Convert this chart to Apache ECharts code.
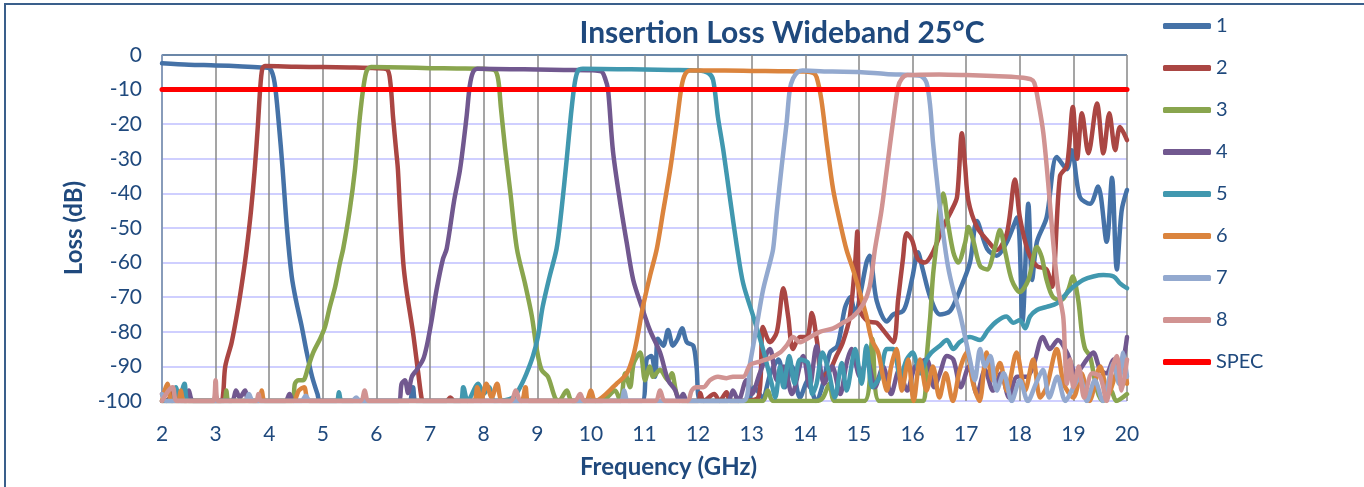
<!DOCTYPE html>
<html>
<head>
<meta charset="utf-8">
<script src="https://cdn.jsdelivr.net/npm/echarts@6/dist/echarts.min.js"></script>
<style>
html,body{margin:0;padding:0;background:#fff;}
#c{width:1364px;height:487px;}
</style>
</head>
<body>
<div id="c"></div>
<script>
const titleText = "Insertion Loss Wideband 25°C";
const xName = "Frequency (GHz)";
const yName = "Loss (dB)";
const seriesNames = ["1","2","3","4","5","6","7","8","SPEC"];
const seriesColors = ["#4572A7","#AA4643","#89A54E","#71588F","#4198AF","#DB843D","#93A9CF","#D19392","#FF0000"];

const s1 = [[2.0,-2.4],[2.5,-2.8],[3.0,-3.0],[3.5,-3.3],[3.9,-3.6],[4.02,-4],[4.1,-8],[4.18,-20],[4.25,-33],[4.33,-50],[4.42,-64],[4.5,-71],[4.6,-78],[4.7,-86],[4.8,-93],[4.9,-98],[4.95,-100],[6.0,-100],[6.6,-100],[6.68,-96],[6.75,-100],[10.95,-100],[11.04,-88],[11.13,-87],[11.2,-93],[11.25,-82],[11.35,-84],[11.44,-79.5],[11.53,-84],[11.62,-82],[11.7,-79],[11.79,-83],[11.91,-84],[11.97,-90],[12.05,-100],[12.9,-100],[13.05,-96],[13.2,-99],[13.35,-92],[13.5,-88],[13.62,-96],[13.75,-90],[13.9,-99],[14.05,-94],[14.2,-100],[14.33,-95],[14.46,-86],[14.6,-84],[14.74,-73],[14.84,-70],[14.93,-75],[15.04,-68],[15.14,-60],[15.2,-58],[15.33,-71],[15.52,-77],[15.64,-75],[15.82,-74],[15.9,-71],[16.0,-64],[16.1,-57],[16.19,-62],[16.33,-70],[16.51,-75],[16.7,-74],[16.88,-68],[17.07,-60],[17.2,-48],[17.39,-56],[17.57,-58],[17.76,-54],[17.95,-47],[18.05,-77],[18.16,-43],[18.23,-65],[18.32,-54],[18.5,-47],[18.69,-29.5],[18.88,-33],[18.97,-27.5],[19.12,-41],[19.31,-43],[19.46,-38],[19.62,-54],[19.72,-35.5],[19.81,-62],[19.9,-45],[20,-39]];

const s2 = [[2.0,-98],[2.08,-100],[2.25,-97],[2.35,-100],[3.1,-100],[3.14,-98],[3.18,-90],[3.3,-83],[3.42,-73],[3.51,-64],[3.58,-56],[3.66,-45],[3.73,-33],[3.79,-20],[3.83,-10],[3.87,-4],[3.92,-3.2],[4.5,-3.4],[5.0,-3.5],[5.5,-3.6],[6.0,-3.8],[6.2,-4.2],[6.26,-8],[6.31,-18],[6.37,-28],[6.4,-33],[6.44,-45],[6.5,-60],[6.56,-68],[6.68,-80],[6.78,-92],[6.84,-99],[6.87,-100],[7.3,-100],[7.38,-99],[7.45,-100],[12.0,-100],[12.04,-97.7],[12.1,-100],[12.3,-98],[12.4,-100],[12.53,-97.5],[12.6,-100],[13.12,-99],[13.21,-78.6],[13.34,-83],[13.47,-80],[13.59,-67.4],[13.68,-75.6],[13.77,-85],[13.9,-81.5],[14.03,-81.5],[14.12,-74.6],[14.22,-83],[14.31,-93],[14.46,-91],[14.58,-87],[14.7,-83],[14.83,-75.6],[14.93,-60],[14.97,-51],[15.02,-73.7],[15.17,-77],[15.33,-77.4],[15.45,-79.5],[15.64,-83],[15.73,-70.8],[15.82,-59],[15.89,-51.5],[15.99,-53.5],[16.1,-59],[16.23,-60],[16.38,-57],[16.57,-49.7],[16.73,-44.8],[16.83,-41],[16.92,-22.6],[16.98,-32],[17.04,-42],[17.2,-49.7],[17.39,-53.5],[17.57,-56.4],[17.76,-51.5],[17.91,-36],[18.0,-46.8],[18.16,-57],[18.32,-61],[18.5,-62],[18.6,-67],[18.75,-35],[18.88,-32],[18.99,-15],[19.07,-30],[19.16,-16.8],[19.28,-28.4],[19.44,-14],[19.56,-28.4],[19.67,-16.8],[19.78,-27.5],[19.87,-20.8],[20,-24.6]];

const s3 = [[2.0,-100],[3.15,-100],[3.2,-97],[3.25,-100],[4.42,-100],[4.48,-95],[4.54,-94],[4.63,-94],[4.73,-90],[4.82,-86],[4.95,-82],[5.04,-78.6],[5.13,-72.8],[5.23,-67],[5.32,-60],[5.38,-56],[5.5,-45],[5.6,-33],[5.69,-18],[5.76,-9],[5.82,-4.5],[5.9,-3.5],[6.5,-3.6],[7.0,-3.8],[7.5,-3.9],[8.0,-4.0],[8.2,-4.3],[8.27,-7],[8.32,-15],[8.4,-27],[8.5,-40],[8.62,-56],[8.77,-66],[8.9,-75.6],[8.99,-85],[9.08,-91],[9.2,-93],[9.33,-99],[9.4,-100],[9.55,-97],[9.65,-100],[10.2,-100],[10.3,-99],[10.45,-97],[10.55,-100],[10.64,-92],[10.73,-96],[10.8,-89],[10.92,-86],[11.01,-94],[11.1,-90],[11.16,-93],[11.29,-91],[11.44,-94],[11.51,-92],[11.6,-98],[11.7,-100],[13.2,-100],[13.3,-97],[13.4,-100],[14.2,-100],[14.33,-99],[14.45,-95],[14.55,-100],[15.1,-100],[15.25,-82],[15.38,-100],[16.2,-100],[16.26,-88],[16.33,-75.6],[16.38,-64],[16.45,-54],[16.5,-45],[16.57,-40],[16.66,-48.6],[16.76,-57],[16.85,-60],[16.98,-54.3],[17.04,-49.7],[17.13,-53.5],[17.26,-61],[17.39,-62],[17.54,-55.5],[17.63,-50.6],[17.73,-57],[17.85,-65],[18.0,-68.5],[18.16,-65],[18.32,-55.5],[18.41,-58.4],[18.5,-65],[18.62,-70],[18.78,-70.8],[18.9,-68],[18.99,-64],[19.09,-70.8],[19.16,-80.4],[19.22,-85],[19.31,-87],[19.44,-96.8],[19.55,-100],[19.7,-97],[19.8,-100],[20,-98]];

const s4 = [[2.0,-100],[2.45,-100],[2.5,-97],[2.58,-100],[3.3,-100],[3.38,-97],[3.45,-99],[3.55,-97],[3.62,-100],[4.3,-100],[4.38,-98],[4.45,-100],[6.4,-100],[6.47,-95],[6.53,-94],[6.59,-97.7],[6.66,-93],[6.75,-91],[6.87,-88],[6.94,-84],[7.03,-76.6],[7.12,-68],[7.24,-59],[7.31,-56],[7.45,-42],[7.56,-33],[7.68,-18],[7.74,-9],[7.8,-5],[7.88,-4],[8.5,-4.1],[9.0,-4.2],[9.5,-4.3],[10.0,-4.4],[10.2,-4.8],[10.27,-7],[10.32,-10],[10.41,-27.5],[10.54,-42],[10.67,-54.4],[10.79,-65],[10.95,-72.8],[11.1,-79.5],[11.29,-86],[11.44,-94],[11.57,-96.8],[11.65,-100],[11.72,-98],[11.8,-100],[12.55,-100],[12.65,-97],[12.75,-100],[12.9,-94],[13.0,-98],[13.15,-92],[13.34,-85],[13.47,-94],[13.6,-90],[13.75,-98],[13.96,-87],[14.08,-96],[14.21,-84],[14.35,-95],[14.5,-90],[14.65,-98],[14.77,-89],[14.86,-85],[15.02,-93],[15.15,-88],[15.3,-96],[15.45,-90],[15.6,-98],[15.75,-91],[15.9,-97],[16.05,-90],[16.26,-88],[16.4,-96],[16.51,-92],[16.64,-87],[16.76,-88],[16.9,-96],[17.05,-90],[17.2,-98],[17.35,-91],[17.5,-97],[17.65,-92],[17.8,-99],[17.95,-93],[18.13,-93],[18.25,-90],[18.43,-81.5],[18.56,-85],[18.71,-82.4],[18.88,-86],[19.05,-92],[19.25,-88],[19.37,-86],[19.5,-91],[19.62,-92],[19.75,-88],[19.87,-91],[20,-81.5]];

const s5 = [[2.0,-100],[2.2,-100],[2.26,-96],[2.32,-100],[2.42,-95],[2.5,-100],[5.25,-100],[5.3,-97.5],[5.36,-100],[7.55,-100],[7.62,-96],[7.7,-100],[7.9,-95],[8.0,-98],[8.1,-96],[8.2,-100],[8.55,-99],[8.68,-96],[8.8,-92],[8.92,-87],[9.01,-81.5],[9.1,-72.8],[9.23,-64],[9.36,-56],[9.45,-45],[9.55,-30],[9.63,-17],[9.7,-8],[9.76,-4.5],[9.85,-4],[10.5,-4.1],[11.0,-4.2],[11.5,-4.3],[12.0,-4.5],[12.19,-5.2],[12.28,-7.2],[12.37,-18],[12.47,-27.5],[12.6,-42],[12.72,-55],[12.84,-66],[13.03,-75.6],[13.21,-85],[13.37,-94.8],[13.44,-99],[13.53,-90],[13.59,-96],[13.7,-87],[13.8,-95],[13.9,-88],[14.05,-89],[14.13,-98],[14.21,-95],[14.32,-86],[14.43,-91],[14.55,-99],[14.68,-89],[14.77,-97],[14.93,-85],[15.05,-95],[15.14,-84],[15.25,-96],[15.39,-93],[15.52,-85],[15.64,-85],[15.77,-93],[15.89,-88],[16.0,-86],[16.14,-92],[16.26,-88],[16.35,-86],[16.51,-84],[16.64,-82.4],[16.76,-85],[16.88,-83],[17.07,-81.5],[17.26,-82.4],[17.41,-79.5],[17.57,-77],[17.75,-75.6],[17.88,-77.4],[18.0,-76.6],[18.1,-79],[18.19,-75.6],[18.32,-73.7],[18.5,-72.8],[18.69,-71.8],[18.88,-68.8],[19.0,-67],[19.18,-65],[19.37,-64],[19.56,-63.6],[19.75,-64],[19.87,-66],[20,-67.4]];

const s6 = [[2.0,-100],[2.05,-97],[2.1,-95],[2.18,-100],[2.3,-100],[2.35,-97],[2.42,-100],[3.8,-100],[3.86,-97],[3.92,-100],[4.45,-100],[4.55,-97],[4.65,-96],[4.75,-100],[7.8,-100],[7.88,-96],[7.95,-100],[8.05,-95],[8.15,-99],[8.25,-95],[8.35,-100],[8.7,-100],[8.78,-96],[8.85,-100],[9.9,-100],[10.0,-97],[10.08,-100],[10.48,-95],[10.67,-92],[10.79,-87],[10.88,-80.5],[10.97,-72.8],[11.1,-64],[11.23,-56],[11.35,-45],[11.48,-33],[11.6,-19.7],[11.69,-9.2],[11.76,-5.5],[11.85,-4.5],[12.5,-4.5],[13.0,-4.6],[13.5,-4.7],[14.0,-4.8],[14.15,-5.2],[14.21,-6.4],[14.3,-13],[14.4,-25.4],[14.52,-39],[14.65,-48.6],[14.77,-56.4],[14.89,-62],[15.02,-68.8],[15.14,-75.6],[15.24,-82.4],[15.36,-86],[15.45,-93],[15.52,-97],[15.6,-90],[15.7,-85],[15.8,-97],[15.92,-88],[16.02,-100],[16.14,-88],[16.26,-97],[16.38,-90],[16.5,-99],[16.62,-92],[16.75,-100],[16.88,-91],[17.01,-86],[17.13,-95],[17.25,-100],[17.38,-86],[17.5,-94],[17.63,-89],[17.76,-97],[17.94,-86],[18.1,-97],[18.25,-88],[18.38,-99],[18.5,-96],[18.69,-85],[18.82,-95],[19.0,-99],[19.15,-92],[19.3,-100],[19.5,-90],[19.65,-98],[19.8,-92],[19.93,-89],[20,-95]];

const s7 = [[2.0,-98],[2.08,-100],[3.55,-100],[3.62,-98],[3.7,-100],[4.6,-100],[4.68,-98.5],[4.76,-100],[5.55,-100],[5.62,-99],[5.7,-100],[10.55,-100],[10.62,-97],[10.7,-100],[12.84,-100],[12.97,-89],[13.09,-78.6],[13.21,-68],[13.34,-60],[13.4,-56],[13.47,-45],[13.56,-32],[13.65,-19.7],[13.71,-10],[13.77,-6.8],[13.86,-4.9],[13.95,-4.5],[14.5,-4.8],[15.0,-4.9],[15.5,-5.5],[16.0,-5.8],[16.15,-6],[16.26,-8],[16.33,-15],[16.38,-25],[16.48,-40],[16.57,-51.5],[16.66,-61],[16.76,-68],[16.88,-74.6],[16.98,-81.5],[17.07,-88],[17.16,-94],[17.26,-85],[17.35,-90],[17.45,-87],[17.57,-97],[17.7,-92],[17.85,-100],[18.0,-94],[18.15,-100],[18.3,-95],[18.43,-91],[18.55,-99],[18.7,-93],[18.85,-100],[19.0,-96],[19.12,-93],[19.25,-100],[19.4,-94],[19.55,-100],[19.75,-89],[19.85,-95],[19.93,-86],[20,-93]];

const s8 = [[2.0,-100],[2.12,-97],[2.2,-96],[2.28,-100],[2.95,-100],[3.0,-94],[3.05,-100],[3.75,-100],[3.8,-98],[3.85,-100],[5.7,-100],[5.78,-97],[5.86,-100],[8.5,-100],[8.6,-97],[8.7,-100],[9.7,-100],[9.8,-98],[9.88,-100],[11.2,-100],[11.29,-97],[11.38,-100],[11.8,-100],[11.88,-97],[11.97,-96],[12.1,-96],[12.22,-94],[12.37,-93],[12.53,-93.4],[12.65,-93],[12.84,-93],[12.97,-89.6],[13.15,-88.6],[13.34,-87.6],[13.53,-86],[13.65,-84],[13.77,-81.5],[13.9,-83],[14.09,-81.5],[14.27,-80],[14.52,-79],[14.7,-77.4],[14.89,-75.6],[15.08,-72],[15.2,-67],[15.3,-56],[15.42,-45],[15.52,-33],[15.64,-18.8],[15.73,-9.2],[15.8,-6.8],[15.9,-5.8],[16.5,-5.6],[17.0,-5.8],[17.5,-6.1],[18.0,-6.5],[18.2,-7],[18.27,-8],[18.34,-13],[18.44,-22.6],[18.53,-37],[18.62,-53.5],[18.71,-67],[18.81,-75.6],[18.84,-85],[18.88,-95],[18.94,-88],[19.0,-96],[19.1,-90],[19.2,-99],[19.35,-92],[19.5,-93],[19.62,-100],[19.72,-91],[19.81,-87],[19.9,-97],[20,-88]];

const spec = [[2,-10],[20,-10]];

const allData = [s1,s2,s3,s4,s5,s6,s7,s8,spec];
const textColor = "#1F497D";
const font = "Lato, 'Liberation Sans', sans-serif";

const chart = echarts.init(document.getElementById('c'), null, {renderer:'canvas'});
const series = allData.map((d,i)=>({
  name: seriesNames[i],
  type: 'line',
  data: d,
  showSymbol: false,
  smooth: i===8 ? false : 0.3,
  lineStyle: {color: seriesColors[i], width: i===8 ? 5 : 4.5, cap: 'round', join: 'round'},
  itemStyle: {color: seriesColors[i]},
  emphasis: {disabled: true},
  animation: false,
  z: 2 + i
}));

const ySplitColors = [];
for (let k=0;k<=10;k++) ySplitColors.push(k===10 ? '#3A5F8B' : '#BFBFFF');

chart.setOption({
  animation: false,
  backgroundColor: '#ffffff',
  textStyle: {fontFamily: font},
  grid: {left:162, right:237, top:55, bottom:86, containLabel:false},
  xAxis: {
    type:'value', min:2, max:20, interval:1,
    axisLine:{show:false},
    axisTick:{show:false},
    axisLabel:{color:textColor, fontSize:21, fontFamily:font, margin:23},
    splitLine:{show:true, lineStyle:{color:'#878787', width:1.5}},
    name: xName, nameLocation:'middle', nameGap:54,
    nameTextStyle:{color:textColor, fontSize:24, fontWeight:'bold', fontFamily:font, padding:[0,0,0,48]}
  },
  yAxis: {
    type:'value', min:-100, max:0, interval:10,
    axisLine:{show:true, lineStyle:{color:'#7F9AC2', width:1.5}},
    axisTick:{show:false},
    axisLabel:{color:textColor, fontSize:21, fontFamily:font, margin:20},
    splitLine:{show:true, lineStyle:{color:ySplitColors, width:1.5}},
    name: yName, nameLocation:'middle', nameGap:76, nameRotate:90,
    nameTextStyle:{color:textColor, fontSize:24, fontWeight:'bold', fontFamily:font}
  },
  legend: {
    orient:'vertical', left:1163, top:16, padding:0,
    itemWidth:48, itemHeight:6, itemGap:22,
    icon:'roundRect',
    data: seriesNames,
    textStyle:{color:textColor, fontSize:20, fontFamily:font, lineHeight:20, padding:[0,0,0,0]},
    selectedMode:false
  },
  graphic: [
    {type:'rect', shape:{x:5, y:4, width:1400, height:520}, style:{fill:'none', stroke:'#3A5F8B', lineWidth:2}, silent:true, z:100},
    {type:'text', style:{text:titleText, x:782, y:33, textAlign:'center', textVerticalAlign:'middle', fill:textColor, font:"bold 30px Lato, 'Liberation Sans', sans-serif"}, z:100}
  ],
  series: series
});
</script>
</body>
</html>
